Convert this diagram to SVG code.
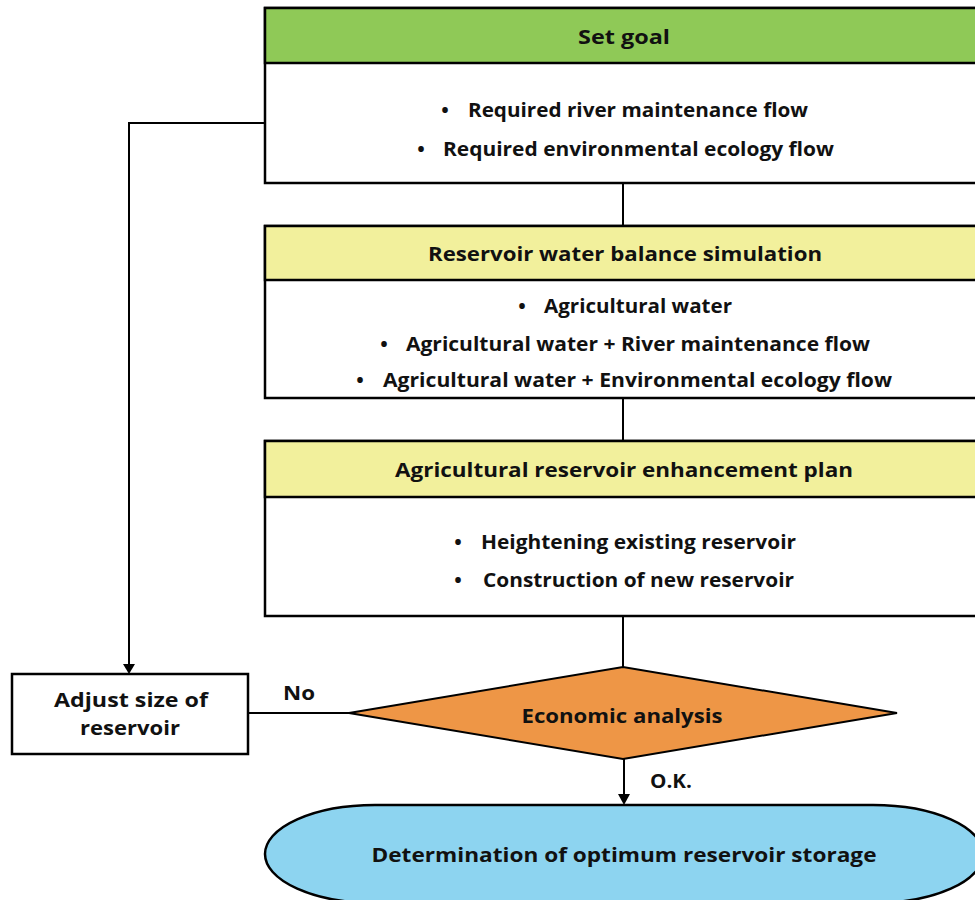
<svg xmlns="http://www.w3.org/2000/svg" width="975" height="900" viewBox="0 0 975 900">
<defs>
<style>
.box{fill:#fff;stroke:#000;stroke-width:2.5}
.line{fill:none;stroke:#000;stroke-width:2}
text{font-family:"Open Sans","Noto Sans",sans-serif;font-weight:700;font-size:20px;fill:#111}
.c{text-anchor:middle}
</style>
</defs>
<rect width="975" height="900" fill="#fff"/>
<g id="connectors">
<path class="line" d="M265,123 H129 V666"/>
<polygon points="123,664 135,664 129,674" fill="#000"/>
<path class="line" d="M623,183 V226"/>
<path class="line" d="M623,398 V441"/>
<path class="line" d="M623,616 V667"/>
<path class="line" d="M248,713 H349"/>
<path class="line" d="M624,759 V796"/>
<polygon points="618,794 630,794 624,805" fill="#000"/>
<text x="299" y="700" class="c" textLength="32" lengthAdjust="spacingAndGlyphs">No</text>
<text x="671" y="788" class="c" textLength="42" lengthAdjust="spacingAndGlyphs">O.K.</text>
</g>
<g id="set-goal">
<rect class="box" x="265" y="8" width="716" height="175"/>
<rect x="265" y="8" width="716" height="55" fill="#8FC957" stroke="#000" stroke-width="2.5"/>
<text x="624" y="44" class="c" textLength="92" lengthAdjust="spacingAndGlyphs">Set goal</text>
<text x="445" y="117" class="c">•</text>
<text x="468" y="117" textLength="340" lengthAdjust="spacingAndGlyphs">Required river maintenance flow</text>
<text x="421" y="156" class="c">•</text>
<text x="443" y="156" textLength="391" lengthAdjust="spacingAndGlyphs">Required environmental ecology flow</text>
</g>
<g id="water-balance">
<rect class="box" x="265" y="226" width="716" height="172"/>
<rect x="265" y="226" width="716" height="54" fill="#F2F09C" stroke="#000" stroke-width="2.5"/>
<text x="625" y="261" class="c" textLength="394" lengthAdjust="spacingAndGlyphs">Reservoir water balance simulation</text>
<text x="522" y="313" class="c">•</text>
<text x="544" y="313" textLength="188" lengthAdjust="spacingAndGlyphs">Agricultural water</text>
<text x="384" y="351" class="c">•</text>
<text x="406" y="351" textLength="464" lengthAdjust="spacingAndGlyphs">Agricultural water + River maintenance flow</text>
<text x="360" y="387" class="c">•</text>
<text x="383" y="387" textLength="509" lengthAdjust="spacingAndGlyphs">Agricultural water + Environmental ecology flow</text>
</g>
<g id="enhancement-plan">
<rect class="box" x="265" y="441" width="716" height="175"/>
<rect x="265" y="441" width="716" height="56" fill="#F2F09C" stroke="#000" stroke-width="2.5"/>
<text x="624" y="477" class="c" textLength="458" lengthAdjust="spacingAndGlyphs">Agricultural reservoir enhancement plan</text>
<text x="458" y="549" class="c">•</text>
<text x="481" y="549" textLength="315" lengthAdjust="spacingAndGlyphs">Heightening existing reservoir</text>
<text x="458" y="587" class="c">•</text>
<text x="483" y="587" textLength="311" lengthAdjust="spacingAndGlyphs">Construction of new reservoir</text>
</g>
<g id="economic-analysis">
<polygon points="349,713 623,667 897,713 623,759" fill="#EE9646" stroke="#000" stroke-width="2"/>
<text x="622" y="723" class="c" textLength="201" lengthAdjust="spacingAndGlyphs">Economic analysis</text>
</g>
<g id="adjust-size">
<rect class="box" x="12" y="674" width="236" height="80"/>
<text x="131" y="707" class="c" textLength="154" lengthAdjust="spacingAndGlyphs">Adjust size of</text>
<text x="130" y="735" class="c" textLength="100" lengthAdjust="spacingAndGlyphs">reservoir</text>
</g>
<g id="optimum-storage">
<rect x="265" y="805" width="718" height="98" rx="110" ry="49" fill="#8DD4F0" stroke="#000" stroke-width="2.5"/>
<text x="624" y="862" class="c" textLength="505" lengthAdjust="spacingAndGlyphs">Determination of optimum reservoir storage</text>
</g>
</svg>
